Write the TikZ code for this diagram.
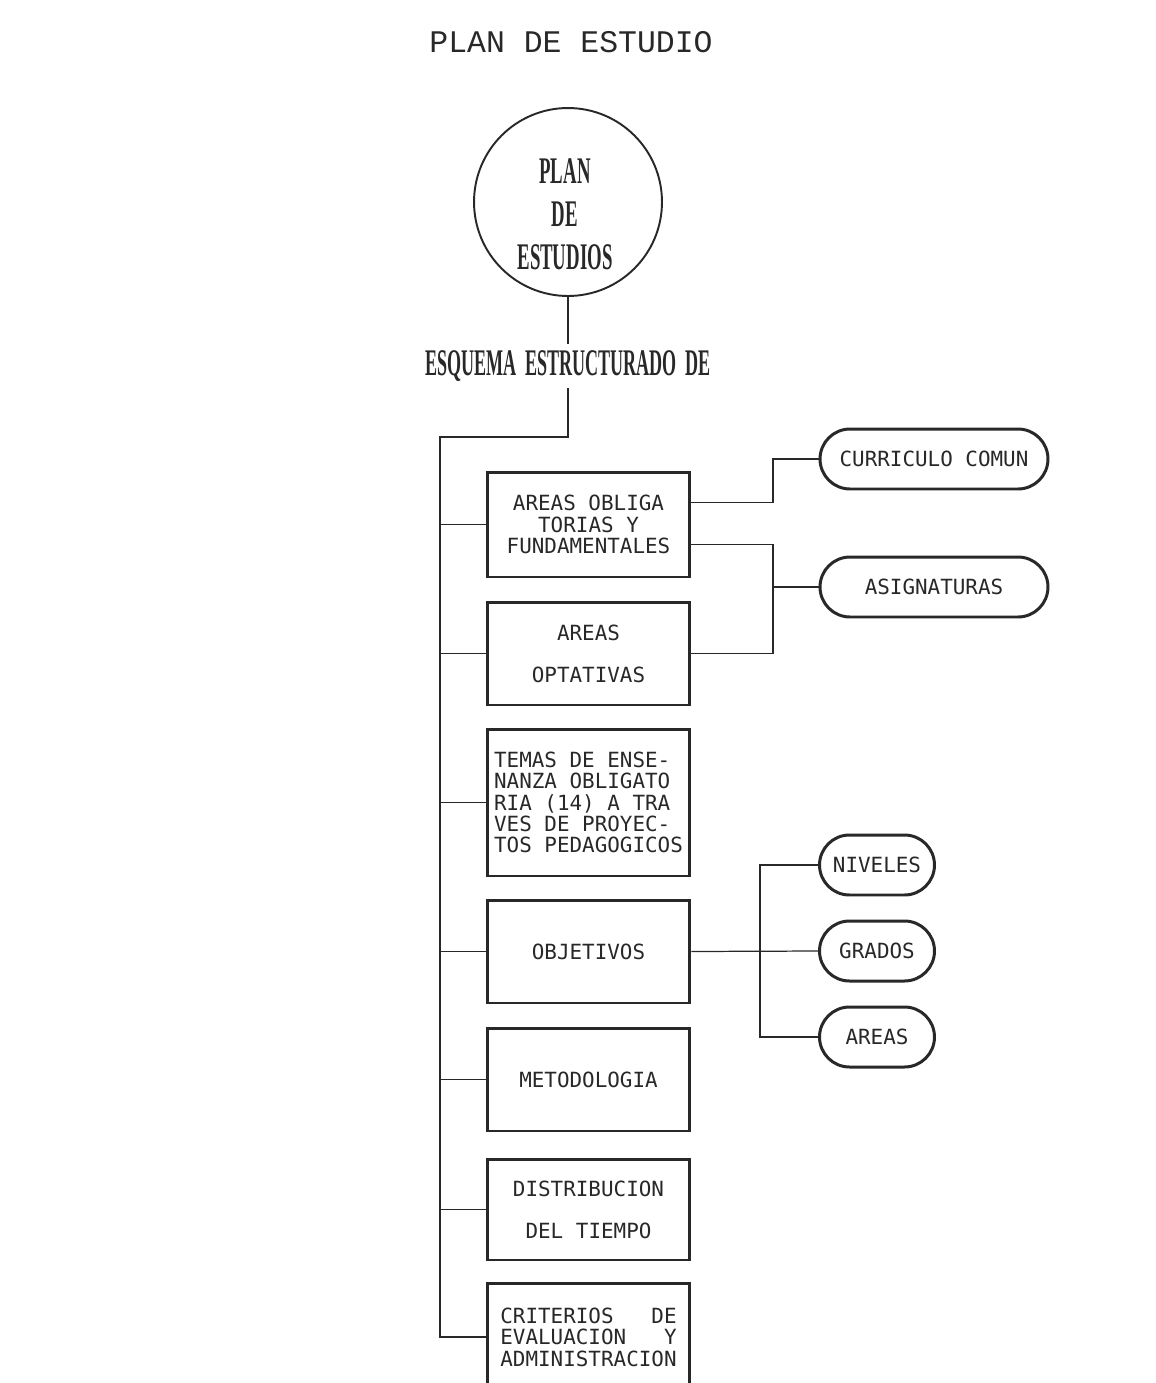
\documentclass[tikz,border=0pt]{standalone}
\usepackage{fontspec}
\setmonofont{DejaVu Sans Mono}
\newfontfamily\titlefont{Liberation Mono}
\newfontfamily\heavyfont{Liberation Serif}
\definecolor{Ink}{RGB}{40,40,40}
\usetikzlibrary{calc}
\newcommand{\narrowtxt}[1]{\scalebox{0.5}[1]{#1}}

\tikzset{
  box/.style={draw=Ink,line width=1.7pt,minimum width=4.06cm,minimum height=2.06cm,inner sep=2pt,
    align=center,text=Ink,font=\ttfamily\fontsize{11.9}{12.2}\selectfont},
  oval/.style={draw=Ink,line width=1.7pt,rounded corners=0.6cm,minimum width=4.56cm,minimum height=1.2cm,
    text=Ink,font=\ttfamily\fontsize{11.9}{12.2}\selectfont},
  link/.style={draw=Ink,line width=0.7pt},
  heavy/.style={text=Ink,align=center,font=\heavyfont\bfseries\fontsize{21.4}{24.4}\selectfont}
}

\begin{document}
\begin{tikzpicture}[x=0.02cm,y=-0.02cm]
  \useasboundingbox (0,0) rectangle (1156,1383);

  \node[text=Ink,font=\titlefont\fontsize{17.9}{20}\selectfont] (title) at (571,42) {PLAN DE ESTUDIO};
  \node[circle,draw=Ink,line width=1.1pt,minimum size=3.76cm] (plan) at (568,202) {};
  \node[heavy] (plantxt) at (565,214) {\narrowtxt{PLAN}\\\narrowtxt{DE}\\\narrowtxt{ESTUDIOS}};
  \node[heavy,minimum height=0.86cm,inner sep=0pt] (esquema) at (568,366)
    {\scalebox{0.48}[1]{ESQUEMA\ \ ESTRUCTURADO\ \ DE}};

  % left column
  \node[box,minimum height=2.1cm] (b1) at (588.5,524.5) {AREAS OBLIGA\\TORIAS Y\\FUNDAMENTALES};
  \node[box] (b2) at (588.5,653.5) {AREAS\\[11.6pt]OPTATIVAS};
  \node[box,minimum height=2.94cm,align=left] (b3) at (588.5,802.5)
    {TEMAS DE ENSE-\\NANZA OBLIGATO\\RIA (14) A TRA\\VES DE PROYEC-\\TOS PEDAGOGICOS};
  \node[box] (b4) at (588.5,951.5) {OBJETIVOS};
  \node[box] (b5) at (588.5,1079.5) {METODOLOGIA};
  \node[box,minimum height=2.02cm] (b6) at (588.5,1209.5) {DISTRIBUCION\\[11.6pt]DEL TIEMPO};
  \node[box,minimum height=2.16cm,align=left] (b7) at (588.5,1337)
    {CRITERIOS\ \ \ DE\\EVALUACION\ \ \ Y\\ADMINISTRACION};

  % right side
  \node[oval] (cc) at (934,459) {CURRICULO COMUN};
  \node[oval] (asig) at (934,587) {ASIGNATURAS};
  \node[oval,minimum width=2.3cm] (niv) at (877,865) {NIVELES};
  \node[oval,minimum width=2.3cm] (grad) at (877,951) {GRADOS};
  \node[oval,minimum width=2.3cm] (are) at (877,1037) {AREAS};

  \draw[link] (plan.south) -- (esquema.north);
  \coordinate (trunk) at (440,437);
  \draw[link] (esquema.south) |- (trunk) |- (b7.west);
  \foreach \b in {b1,b2,b3,b4,b5,b6}
    \draw[link] (\b.west) -- (\b.west -| trunk);

  \coordinate (fork) at (773,0);
  \draw[link] ($(b1.east)+(0,-22)$) -| (fork |- cc.west) -- (cc.west);
  \draw[link] ($(b1.east)+(0,20)$) -| (fork |- b2.east) -- (b2.east);
  \draw[link] (asig.west) -- (asig.west -| fork);

  \coordinate (split) at (760,0);
  \draw[link] (b4.east) -- (grad.west);
  \draw[link] (niv.west) -| (split |- are.west) -- (are.west);
\end{tikzpicture}
\end{document}
